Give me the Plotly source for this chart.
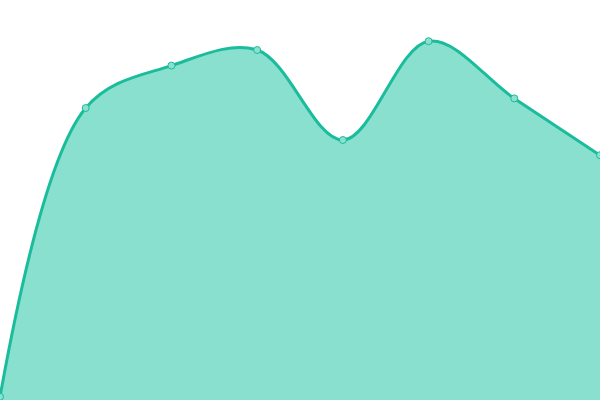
import plotly.graph_objects as go

x_vals = [0, 1, 2, 3, 4, 5, 6, 7]
y_vals = [0.8, 73.0, 83.6, 87.5, 65.0, 89.7, 75.4, 61.2]

fig = go.Figure()
fig.add_trace(go.Scatter(
    x=x_vals, y=y_vals,
    mode="lines+markers",
    line=dict(shape="spline", smoothing=1.0, color="#1abc9c", width=3),
    fill="tozeroy",
    fillcolor="#89e0cf",
    marker=dict(size=7, color="#8be0cf", line=dict(color="#1abc9c", width=1)),
    hoverinfo="skip",
))
fig.update_layout(
    width=600, height=400,
    margin=dict(l=0, r=0, t=0, b=0),
    paper_bgcolor="white", plot_bgcolor="white",
    showlegend=False,
    xaxis=dict(range=[0, 7], visible=False, fixedrange=True),
    yaxis=dict(range=[0, 100], visible=False, fixedrange=True),
)
fig.write_html(
    "out.html",
    config={"displayModeBar": False},
    post_script="document.body.style.margin='0';document.body.style.padding='0';",
)
